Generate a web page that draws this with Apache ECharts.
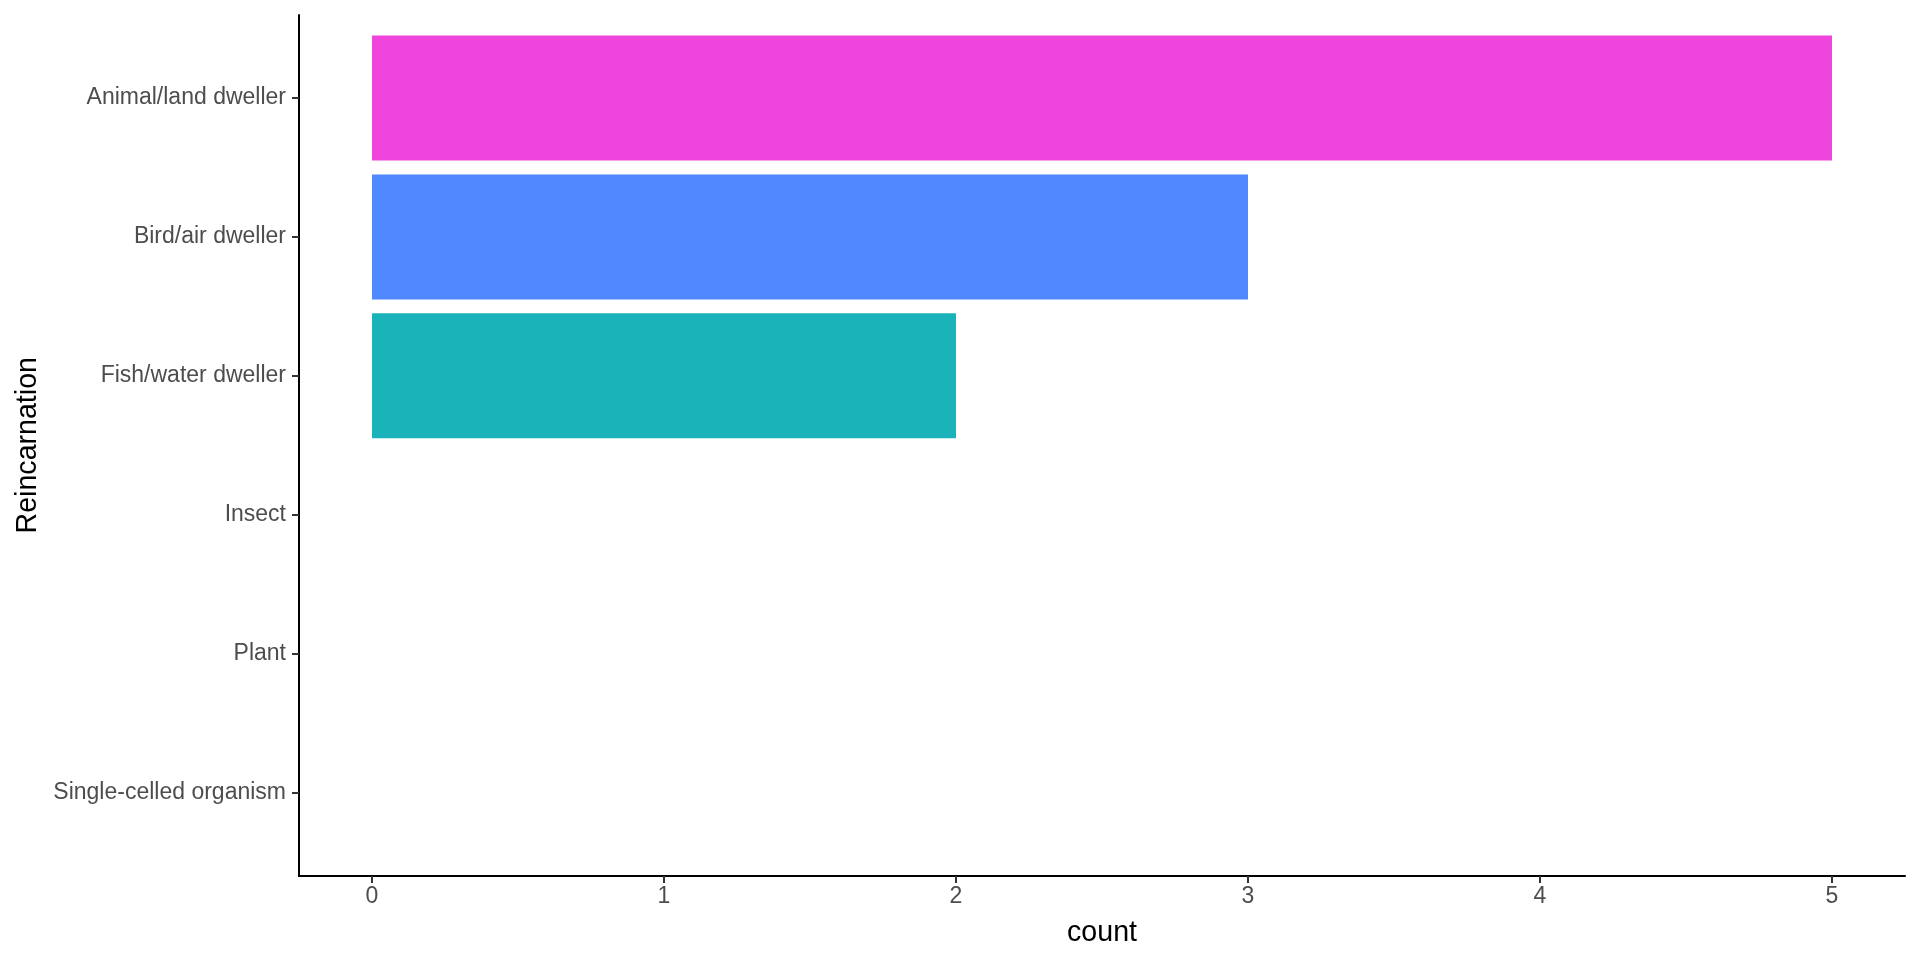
<!DOCTYPE html>
<html>
<head>
<meta charset="utf-8">
<script src="https://cdn.jsdelivr.net/npm/echarts@6/dist/echarts.min.js"></script>
<style>
  html, body { margin: 0; padding: 0; background: #fff; }
  #chart { width: 1920px; height: 960px; }
</style>
</head>
<body>
<div id="chart"></div>
<script>
// data
const categories = ["Animal/land dweller", "Bird/air dweller", "Fish/water dweller", "Insect", "Plant", "Single-celled organism"];
const counts = [5, 3, 2, 0, 0, 0];
const barColors = ["#EF45DC", "#5088FF", "#1AB3B9", "#999999", "#999999", "#999999"];
const xTicks = [0, 1, 2, 3, 4, 5];

const font = "'Liberation Sans', Arial, Helvetica, sans-serif";
const chart = echarts.init(document.getElementById("chart"));

const option = {
  animation: false,
  backgroundColor: "#fff",
  grid: [
    // bars live here, sized so the bands line up with the reference
    { left: 299, right: 15, top: 28.6, bottom: 98.1 },
    // only used to draw the full-height y axis line
    { left: 299, right: 15, top: 15, bottom: 84 }
  ],
  xAxis: [
    {
      gridIndex: 0,
      type: "value",
      min: -0.25,
      max: 5.25,
      offset: 14,
      name: "count",
      nameLocation: "middle",
      nameGap: 43,
      nameTextStyle: { color: "#000", fontSize: 28.6, fontFamily: font },
      axisLine: { show: true, onZero: false, lineStyle: { color: "#000", width: 2 } },
      axisTick: { show: true, length: 7, customValues: xTicks, lineStyle: { color: "#333", width: 2 } },
      axisLabel: { customValues: xTicks, color: "#4D4D4D", fontSize: 23, fontFamily: font, margin: 9 },
      splitLine: { show: false }
    },
    {
      gridIndex: 1,
      type: "value",
      show: false
    }
  ],
  yAxis: [
    {
      gridIndex: 0,
      type: "category",
      data: categories,
      inverse: true,
      name: "Reincarnation",
      nameLocation: "middle",
      nameGap: 256,
      nameRotate: 90,
      nameTextStyle: { color: "#000", fontSize: 28.6, fontFamily: font },
      axisLine: { show: false, onZero: false },
      axisTick: { show: true, alignWithLabel: true, length: 7, lineStyle: { color: "#333", width: 2 } },
      axisLabel: { color: "#4D4D4D", fontSize: 23, fontFamily: font, margin: 13 },
      splitLine: { show: false }
    },
    {
      gridIndex: 1,
      type: "value",
      axisLine: { show: true, onZero: false, lineStyle: { color: "#000", width: 2 } },
      axisTick: { show: false },
      axisLabel: { show: false },
      splitLine: { show: false }
    }
  ],
  series: [
    {
      type: "bar",
      xAxisIndex: 0,
      yAxisIndex: 0,
      barWidth: "90%",
      data: counts.map((v, i) => ({ value: v, itemStyle: { color: barColors[i] } }))
    }
  ]
};

chart.setOption(option);
</script>
</body>
</html>
